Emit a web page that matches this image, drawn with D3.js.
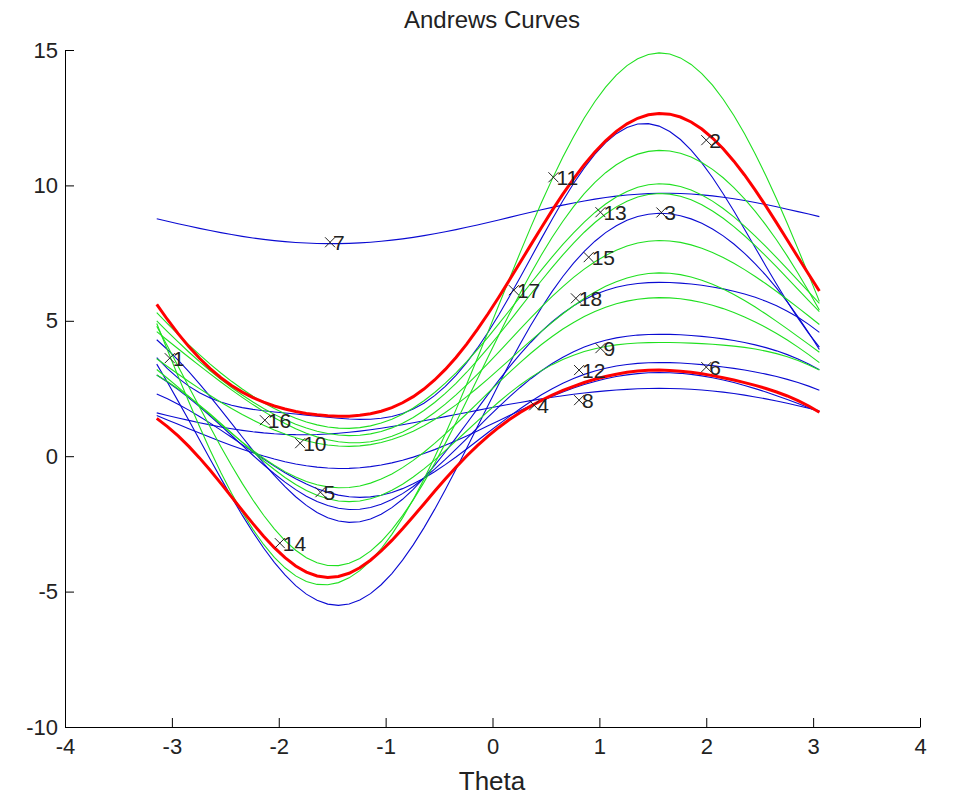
<!DOCTYPE html>
<html>
<head>
<meta charset="utf-8">
<script src="https://cdn.jsdelivr.net/npm/d3@7"></script>
<style>
  body { margin: 0; background: #fff; }
  text { font-family: "Liberation Sans", Arial, sans-serif; }
</style>
</head>
<body>
<svg id="chart" width="953" height="803"></svg>
<script>
// Andrews curves:
// f(t) = a + b sin t + c cos t + d sin 2t + e cos 2t + f sin 3t + g cos 3t
// one entry per observation, read off the picture
const groups = ['blue', 'blue', 'blue', 'blue', 'blue', 'blue', 'blue', 'blue',
                'green', 'green', 'green', 'green', 'green', 'green', 'green', 'green',
                'red', 'red'];
const coefA = [8.75, 5.525, 2.285, 2.75, 1.83, 1.365, 1.34, 1.68,
               5.01, 4.02, 5.265, 4.94, 4.20, 3.45, 2.61, 1.865,
               6.32, 0.246];
const coefB = [0.93, 5.36, 7.20, 4.32, 3.145, 2.38, 1.76, 0.845,
               9.825, 7.655, 4.48, 4.42, 3.665, 3.17, 3.485, 2.87,
               5.67, 3.627];
const coefC = [-0.05, 0.598, -0.60, -0.90, -0.70, -0.65, -0.15, 0.10,
               0.05, -0.40, -0.35, -0.40, -0.50, -0.30, -0.35, -0.60,
               -0.08, -0.236];
const coefD = [0, 0.494, 0.30, 0.45, 0.35, 0.325, 0.075, -0.05,
               0, 0.20, 0.175, 0.20, 0.25, 0.15, 0.175, 0.30,
               0.075, 0.10];
const coefE = [-0.03, -1.285, 0.515, 0.65, 0.47, 0.285, 0.01, 0.02,
               -0.06, 0.38, -0.315, -0.34, -0.10, -0.15, 0.24, 0.535,
               -0.76, 0.8925];
const coefF = [0, 0, 0, 0, 0, 0, 0, 0,
               0, 0, 0, 0, 0, 0, 0, 0,
               0.09, -0.198];
const coefG = [0, 0, 0, 0, 0, 0, 0, 0,
               0, 0, 0, 0, 0, 0, 0, 0,
               0.03, -0.024];

// point labels (marker position in theta / value)
const labelText = ['1', '2', '3', '4', '5', '6', '7', '8', '9', '10', '11', '12', '13', '14', '15', '16', '17', '18'];
const labelTheta = [-3.02, 2.0, 1.58, 0.39, -1.61, 2.0, -1.52, 0.81, 1.01, -1.8, 0.57, 0.81, 1.01, -1.99, 0.9, -2.13, 0.2, 0.78];
const labelValue = [3.62, 11.67, 9.0, 1.88, -1.33, 3.29, 7.9, 2.07, 3.99, 0.48, 10.3, 3.18, 9.01, -3.21, 7.35, 1.33, 6.13, 5.83];

const xTicks = [-4, -3, -2, -1, 0, 1, 2, 3, 4];
const yTicks = [-10, -5, 0, 5, 10, 15];

const colors = { blue: '#0a0ad2', green: '#20e020', red: '#ff0000' };

const svg = d3.select('#chart');
const x = d3.scaleLinear().domain([-4, 4]).range([65, 920]);
const y = d3.scaleLinear().domain([-10, 15]).range([727, 50]);

// theta grid: -pi to pi in steps of 0.1
const thetas = d3.range(63).map(k => -Math.PI + k * 0.1);

const curves = groups.map((g, i) => ({
    group: g,
    points: thetas.map(t => ({
        t: t,
        v: coefA[i] + coefB[i] * Math.sin(t) + coefC[i] * Math.cos(t)
            + coefD[i] * Math.sin(2 * t) + coefE[i] * Math.cos(2 * t)
            + coefF[i] * Math.sin(3 * t) + coefG[i] * Math.cos(3 * t)
    }))
}));

const line = d3.line()
    .x(d => x(d.t))
    .y(d => y(d.v));

// thin curves first, red ones on top
const order = curves.filter(c => c.group !== 'red').concat(curves.filter(c => c.group === 'red'));

svg.append('g')
    .selectAll('path')
    .data(order)
    .enter().append('path')
    .attr('d', d => line(d.points))
    .style('fill', 'none')
    .style('stroke', d => colors[d.group])
    .style('stroke-width', d => d.group === 'red' ? 3 : 1.1);

// axes
const xAxis = d3.axisBottom(x)
    .tickValues(xTicks)
    .tickFormat(d => String(d))
    .tickSizeInner(-9)
    .tickSizeOuter(0)
    .tickPadding(11);

const yAxis = d3.axisLeft(y)
    .tickValues(yTicks)
    .tickFormat(d => String(d))
    .tickSizeInner(-9)
    .tickSizeOuter(0)
    .tickPadding(7);

const gx = svg.append('g').attr('transform', 'translate(0,727)').call(xAxis);
const gy = svg.append('g').attr('transform', 'translate(65,0)').call(yAxis);

[gx, gy].forEach(g => {
    g.selectAll('text').style('font-size', '22px').style('fill', '#222');
    g.selectAll('line, path').style('stroke', '#000');
});

// labels with x markers
const labels = svg.append('g');
labelText.forEach((txt, i) => {
    const px = x(labelTheta[i]);
    const py = y(labelValue[i]);
    labels.append('path')
        .attr('d', `M${px - 5},${py - 5}L${px + 5},${py + 5}M${px - 5},${py + 5}L${px + 5},${py - 5}`)
        .style('stroke', '#222')
        .style('stroke-width', 1);
    labels.append('text')
        .attr('x', px + 3)
        .attr('y', py + 8)
        .style('font-size', '21px')
        .style('fill', '#222')
        .text(txt);
});

svg.append('text')
    .attr('x', 492)
    .attr('y', 28)
    .attr('text-anchor', 'middle')
    .style('font-size', '24px')
    .style('fill', '#222')
    .text('Andrews Curves');

svg.append('text')
    .attr('x', 492)
    .attr('y', 790)
    .attr('text-anchor', 'middle')
    .style('font-size', '26px')
    .style('fill', '#222')
    .text('Theta');
</script>
</body>
</html>
